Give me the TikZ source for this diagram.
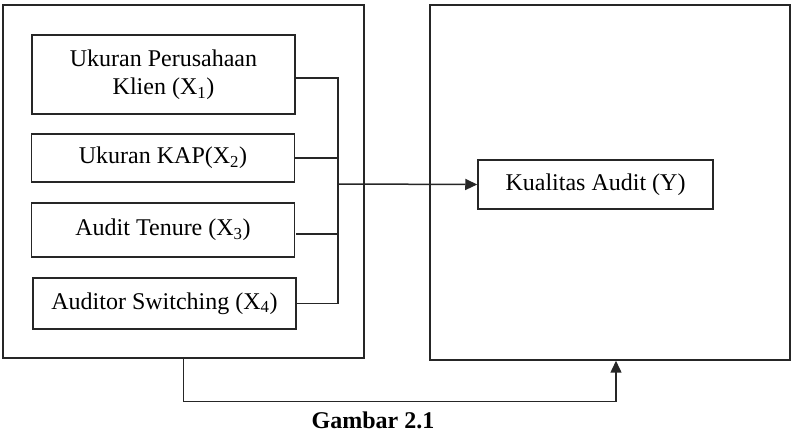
\documentclass[tikz,border=0pt]{standalone}
\usepackage{fontspec}
\setmainfont{Liberation Serif}
\usetikzlibrary{arrows.meta}

\begin{document}
\begin{tikzpicture}[
    x=1pt, y=-1pt,
    line width=1.5pt, draw=black!85,
    every node/.style={font=\fontsize{24}{28}\selectfont, align=center, inner sep=0pt},
    frame/.style={draw, minimum width=361pt, minimum height=353pt},
    varbox/.style={draw, minimum width=263pt},
    arr/.style={-{Triangle[length=12pt,width=11pt]}}]

\useasboundingbox (0,0) rectangle (796,438);

% kerangka kiri dan kanan
\node[frame] (kiri)  at (183.5,181.5) {};
\node[frame, minimum width=360pt, minimum height=355pt] (kanan) at (610,182.5) {};

% variabel independen
\node[varbox, minimum height=79pt] (x1) at (163.5,74.5) {Ukuran Perusahaan\\Klien (X\textsubscript{1})};
\node[varbox, minimum height=48pt] (x2) at (163,158) {Ukuran KAP(X\textsubscript{2})};
\node[varbox, minimum height=54pt] (x3) at (163,230) {Audit Tenure (X\textsubscript{3})};
\node[varbox, minimum height=51pt] (x4) at (164.5,303.5) {Auditor Switching (X\textsubscript{4})};

% variabel dependen
\node[draw, minimum width=235pt, minimum height=49pt] (y) at (595.5,184.5) {Kualitas Audit (Y)};

\node[font=\fontsize{24}{28}\selectfont\bfseries] (judul) at (373,420) {Gambar 2.1};

\coordinate (bus) at (338,184);

\draw ([yshift=-3.5pt]x1.east) -| (bus);
\draw (x4.east) -| (bus);
\draw (x2.east) -- (x2.east -| bus);
\draw ([xshift=1pt,yshift=-4pt]x3.east) -- ([yshift=-4pt]x3.east -| bus);
\draw[arr] (bus) -- (y.west);

\draw[arr] (kiri.south) -- ++(0,43) -| ([xshift=6pt]kanan.south);

\end{tikzpicture}
\end{document}
